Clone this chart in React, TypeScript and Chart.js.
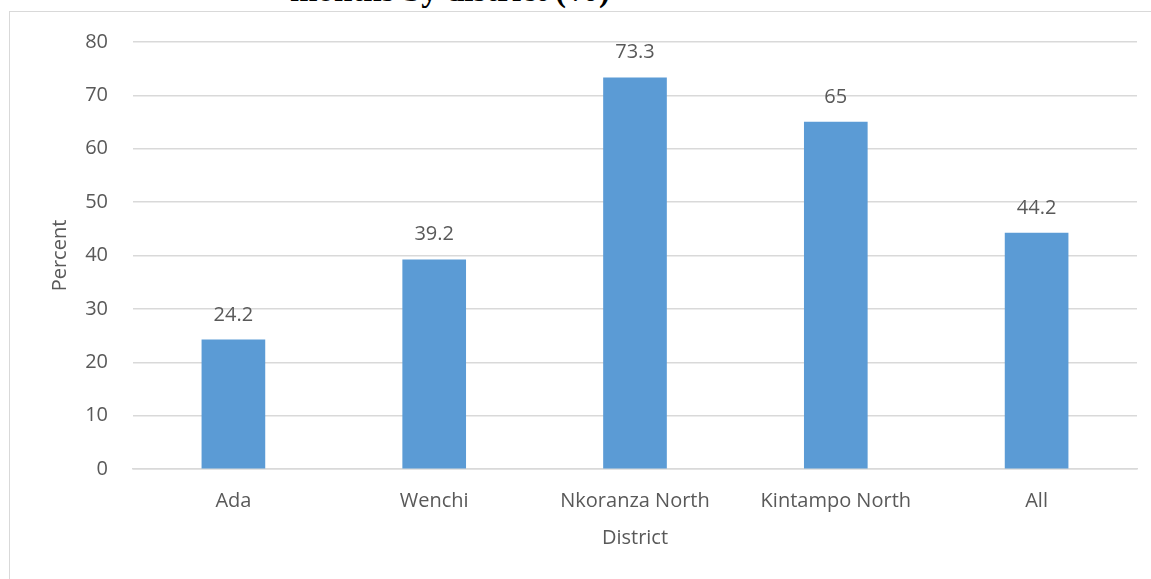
import React, { useEffect, useRef } from "react";
import { Chart, registerables } from "chart.js";

Chart.register(...registerables);

const categories = ["Ada", "Wenchi", "Nkoranza North", "Kintampo North", "All"];
const values = [24.2, 39.2, 73.3, 65, 44.2];
const yTicks = [0, 10, 20, 30, 40, 50, 60, 70, 80];
const titleText = "months by district (%)";
const xTitle = "District";
const yTitle = "Percent";

const FONT = "'Open Sans', 'DejaVu Sans', sans-serif";
const TEXT = "#595959";
const GRID = "#d9d9d9";
const BAR = "#5b9bd5";

const valueLabels = {
  id: "valueLabels",
  afterDatasetsDraw(chart: any) {
    const ctx = chart.ctx;
    const meta = chart.getDatasetMeta(0);
    ctx.save();
    ctx.font = `20px ${FONT}`;
    ctx.fillStyle = TEXT;
    ctx.textAlign = "center";
    ctx.textBaseline = "middle";
    meta.data.forEach((bar: any, i: number) => {
      ctx.fillText(String(values[i]), bar.x, bar.y - 25);
    });
    ctx.restore();
  },
};

export default function App() {
  const ref = useRef<HTMLCanvasElement | null>(null);
  useEffect(() => {
    if (!ref.current) return;
    const chart = new Chart(ref.current, {
      type: "bar",
      data: {
        labels: categories,
        datasets: [
          {
            data: values,
            backgroundColor: BAR,
            borderWidth: 0,
            barThickness: 63,
          },
        ],
      },
      options: {
        animation: false,
        responsive: false,
        maintainAspectRatio: false,
        layout: { padding: { top: 42, right: 14, left: 0, bottom: 0 } },
        plugins: {
          legend: { display: false },
          tooltip: { enabled: false },
          title: { display: false },
        },
        scales: {
          x: {
            afterFit(scale: any) {
              scale.height = 110;
            },
            grid: { display: false, drawTicks: false },
            border: { display: true, color: GRID, width: 1.5 },
            ticks: {
              padding: 20,
              color: TEXT,
              font: { family: FONT, size: 20 },
              maxRotation: 0,
            },
            title: {
              display: true,
              text: xTitle,
              color: TEXT,
              font: { family: FONT, size: 20 },
              padding: { top: 29, bottom: 29 },
            },
          },
          y: {
            min: 0,
            max: 80,
            afterFit(scale: any) {
              scale.width = 133;
            },
            afterBuildTicks(scale: any) {
              scale.ticks = yTicks.map((v) => ({ value: v }));
            },
            grid: { color: GRID, lineWidth: 1.5, drawTicks: false },
            border: { display: false },
            ticks: {
              padding: 25,
              color: TEXT,
              font: { family: FONT, size: 20 },
            },
            title: {
              display: true,
              text: yTitle,
              color: TEXT,
              font: { family: FONT, size: 20 },
              padding: { top: 48 },
            },
          },
        },
      },
      plugins: [valueLabels],
    });
    return () => chart.destroy();
  }, []);

  return (
    <div
      style={{
        position: "absolute",
        left: 0,
        top: 0,
        width: 1151,
        height: 579,
        overflow: "hidden",
        background: "#fff",
      }}
    >
      <div
        style={{
          position: "absolute",
          left: 290,
          top: -26,
          fontFamily: "'Liberation Serif', 'Times New Roman', serif",
          fontWeight: "bold",
          fontSize: 33,
          lineHeight: "33px",
          whiteSpace: "nowrap",
          color: "#000",
        }}
      >
        {titleText}
      </div>
      <div
        style={{
          position: "absolute",
          left: 9,
          top: 11,
          width: 1300,
          height: 800,
          borderLeft: `1.5px solid ${GRID}`,
          borderTop: `1.5px solid ${GRID}`,
        }}
      />
      <canvas
        ref={ref}
        width={1151}
        height={579}
        style={{ position: "absolute", left: 0, top: 0, width: 1151, height: 579 }}
      />
    </div>
  );
}
